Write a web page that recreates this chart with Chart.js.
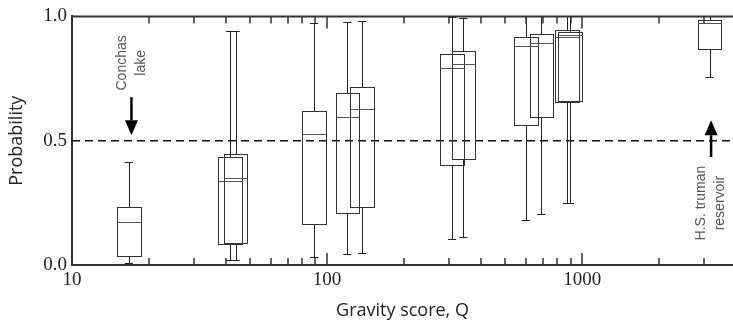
<!DOCTYPE html>
<html>
<head>
<meta charset="utf-8">
<script src="https://cdn.jsdelivr.net/npm/chart.js@4.4.1/dist/chart.umd.min.js"></script>
<style>
  html, body { margin: 0; padding: 0; background: #fff; overflow: hidden; }
</style>
</head>
<body>
<canvas id="chart" width="733" height="323"></canvas>
<script>
'use strict';

/****************************** Données ******************************/
// gravity score Q of each lake group (one box per value)
var gravity     = [16.7, 41.6, 43.8, 88.9, 120, 137, 309, 342, 601, 692, 873, 895, 3155];
var whiskerLow  = [0.007, 0.020, 0.020, 0.032, 0.044, 0.048, 0.103, 0.112, 0.182, 0.204, 0.248, 0.250, 0.756];
var quart1      = [0.036, 0.086, 0.090, 0.166, 0.210, 0.232, 0.403, 0.426, 0.565, 0.597, 0.655, 0.659, 0.869];
var medians     = [0.171, 0.339, 0.348, 0.525, 0.594, 0.628, 0.792, 0.808, 0.882, 0.894, 0.917, 0.925, 0.973];
var quart3      = [0.234, 0.434, 0.445, 0.621, 0.690, 0.714, 0.850, 0.862, 0.918, 0.929, 0.946, 0.937, 0.987];
var whiskerHigh = [0.416, 0.940, 0.943, 0.972, 0.979, 0.982, 0.998, 0.995, 1.0, 1.0, 1.0, 1.0, 1.0];

var xTicks = [10, 100, 1000];
var yTicks = [0, 0.5, 1];
var threshold = 0.5;

var annotations = [
  { lines: ['Conchas', 'lake'], x: 17.1, y: 0.813, arrowFrom: 0.675, arrowTo: 0.522 },
  { lines: ['H.S. truman', 'reservoir'], x: 3200, y: 0.249, arrowFrom: 0.434, arrowTo: 0.582 }
];

var points = gravity.map(function(g, i) { return { x: g, y: medians[i] }; });

/****************************** Dessin ******************************/
function crisp(v) { return Math.round(v) + 0.5; }

var boxPlugin = {
  id: 'boxes',
  afterDatasetsDraw: function(chart) {
    var ctx = chart.ctx;
    var xs = chart.scales.x;
    var ys = chart.scales.y;
    var area = chart.chartArea;
    var half = Math.pow(10, 0.046);
    var cap = Math.pow(10, 0.016);

    ctx.save();
    ctx.beginPath();
    ctx.rect(area.left, area.top - 2, area.right - area.left, area.bottom - area.top + 4);
    ctx.clip();

    // threshold line
    ctx.strokeStyle = '#111';
    ctx.lineWidth = 1.5;
    ctx.setLineDash([8, 5]);
    var yt = ys.getPixelForValue(threshold);
    ctx.beginPath();
    ctx.moveTo(area.left, yt);
    ctx.lineTo(area.right, yt);
    ctx.stroke();
    ctx.setLineDash([]);

    // boxes and whiskers
    ctx.lineWidth = 1;
    for (var i = 0; i < gravity.length; i++) {
      var g = gravity[i];
      var xc = crisp(xs.getPixelForValue(g));
      var x1 = crisp(xs.getPixelForValue(g / half));
      var x2 = crisp(xs.getPixelForValue(g * half));
      var c1 = xs.getPixelForValue(g / cap);
      var c2 = xs.getPixelForValue(g * cap);
      var yLo = crisp(ys.getPixelForValue(whiskerLow[i]));
      var yQ1 = crisp(ys.getPixelForValue(quart1[i]));
      var yMd = crisp(ys.getPixelForValue(medians[i]));
      var yQ3 = crisp(ys.getPixelForValue(quart3[i]));
      var yHi = crisp(ys.getPixelForValue(whiskerHigh[i]));

      ctx.strokeStyle = '#222';
      ctx.beginPath();
      ctx.moveTo(xc, yQ3); ctx.lineTo(xc, yHi);
      ctx.moveTo(c1, yHi); ctx.lineTo(c2, yHi);
      ctx.moveTo(xc, yQ1); ctx.lineTo(xc, yLo);
      ctx.moveTo(c1, yLo); ctx.lineTo(c2, yLo);
      ctx.stroke();

      ctx.strokeStyle = '#333';
      ctx.strokeRect(x1, yQ3, x2 - x1, yQ1 - yQ3);

      ctx.strokeStyle = '#555';
      ctx.beginPath();
      ctx.moveTo(x1, yMd); ctx.lineTo(x2, yMd);
      ctx.stroke();
    }
    ctx.restore();

    // top border + inward ticks (top and bottom)
    ctx.save();
    ctx.strokeStyle = '#333';
    ctx.lineWidth = 2;
    ctx.beginPath();
    ctx.moveTo(area.left - 1, area.top);
    ctx.lineTo(area.right, area.top);
    ctx.stroke();
    ctx.lineWidth = 1.5;
    ctx.beginPath();
    for (var d = 10; d <= xs.max; d *= 10) {
      for (var k = 1; k <= 9; k++) {
        var v = d * k;
        if (v <= xs.min || v >= xs.max) continue;
        var px = Math.round(xs.getPixelForValue(v));
        var len = k === 1 ? 12 : 7;
        ctx.moveTo(px, area.bottom); ctx.lineTo(px, area.bottom - len);
        ctx.moveTo(px, area.top); ctx.lineTo(px, area.top + len);
      }
    }
    ctx.stroke();
    ctx.restore();

    // annotations
    ctx.save();
    annotations.forEach(function(a) {
      var ax = xs.getPixelForValue(a.x);
      var ty = ys.getPixelForValue(a.y);
      ctx.save();
      ctx.translate(ax, ty);
      ctx.rotate(-Math.PI / 2);
      ctx.fillStyle = '#555';
      ctx.font = '14px "Liberation Sans"';
      ctx.textAlign = 'center';
      ctx.textBaseline = 'middle';
      ctx.fillText(a.lines[0], 0, -9.5);
      ctx.fillText(a.lines[1], 0, 9.5);
      ctx.restore();

      var yFrom = ys.getPixelForValue(a.arrowFrom);
      var yTo = ys.getPixelForValue(a.arrowTo);
      var dir = yTo > yFrom ? 1 : -1;
      var headLen = 15;
      ctx.strokeStyle = '#000';
      ctx.fillStyle = '#000';
      ctx.lineWidth = 2.5;
      ctx.beginPath();
      ctx.moveTo(ax, yFrom);
      ctx.lineTo(ax, yTo - dir * headLen);
      ctx.stroke();
      ctx.beginPath();
      ctx.moveTo(ax, yTo);
      ctx.lineTo(ax - 6.5, yTo - dir * headLen);
      ctx.lineTo(ax + 6.5, yTo - dir * headLen);
      ctx.closePath();
      ctx.fill();
    });
    ctx.restore();
  }
};

var tickFont = { family: '"Liberation Serif"', size: 19 };
var titleFont = { family: '"Open Sans"', size: 18 };

var chart = new Chart(document.getElementById('chart').getContext('2d'), {
  type: 'scatter',
  data: {
    datasets: [{
      data: points,
      pointRadius: 0,
      pointHoverRadius: 0,
      showLine: false
    }]
  },
  options: {
    responsive: false,
    animation: false,
    layout: { padding: { top: 16, right: 0, bottom: 0, left: 0 } },
    plugins: {
      legend: { display: false },
      tooltip: { enabled: false }
    },
    scales: {
      x: {
        type: 'logarithmic',
        position: 'bottom',
        min: 10,
        max: 3900,
        afterBuildTicks: function(s) { s.ticks = xTicks.map(function(v) { return { value: v }; }); },
        afterFit: function(s) { s.height = 58; },
        ticks: {
          font: tickFont,
          color: '#222',
          padding: 4,
          maxRotation: 0,
          autoSkip: false,
          callback: function(v) { return String(v); }
        },
        grid: { display: false, drawTicks: false },
        border: { display: true, color: '#333', width: 2 },
        title: {
          display: true,
          text: 'Gravity score, Q',
          font: titleFont,
          color: '#222',
          padding: { top: 0, bottom: 1 }
        }
      },
      y: {
        type: 'linear',
        min: 0,
        max: 1,
        afterBuildTicks: function(s) { s.ticks = yTicks.map(function(v) { return { value: v }; }); },
        afterFit: function(s) { s.width = 72; },
        ticks: {
          font: tickFont,
          color: '#222',
          padding: 5,
          callback: function(v) { return v.toFixed(1); }
        },
        grid: { display: false, drawTicks: false },
        border: { display: true, color: '#333', width: 2 },
        title: {
          display: true,
          text: 'Probability',
          font: titleFont,
          color: '#222',
          padding: { top: 6, bottom: 0 }
        }
      }
    }
  },
  plugins: [boxPlugin]
});
</script>
</body>
</html>
